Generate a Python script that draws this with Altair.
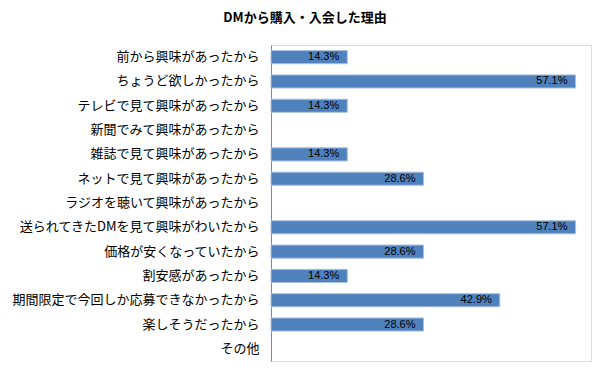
import altair as alt
import pandas as pd

categories = [
    "前から興味があったから",
    "ちょうど欲しかったから",
    "テレビで見て興味があったから",
    "新聞でみて興味があったから",
    "雑誌で見て興味があったから",
    "ネットで見て興味があったから",
    "ラジオを聴いて興味があったから",
    "送られてきたDMを見て興味がわいたから",
    "価格が安くなっていたから",
    "割安感があったから",
    "期間限定で今回しか応募できなかったから",
    "楽しそうだったから",
    "その他",
]
values = [14.3, 57.1, 14.3, 0.0, 14.3, 28.6, 0.0, 57.1, 28.6, 14.3, 42.9, 28.6, 0.0]
title_text = "DMから購入・入会した理由"

df = pd.DataFrame({"cat": categories, "val": values})
df["label"] = df["val"].map(lambda v: f"{v:.1f}%")

jp_font = "Noto Sans CJK JP"

y_enc = alt.Y(
    "cat:N",
    sort=categories,
    title=None,
    scale=alt.Scale(domain=categories, paddingInner=0.46, paddingOuter=0.23),
    axis=alt.Axis(
        labelFont=jp_font,
        labelFontSize=13,
        labelColor="#000000",
        labelPadding=12,
        ticks=False,
        domain=True,
        domainColor="#868686",
        labelLimit=400,
        grid=False,
    ),
)
x_enc = alt.X(
    "val:Q",
    title=None,
    scale=alt.Scale(domain=[0, 60], nice=False),
    axis=None,
)

base = alt.Chart(df).transform_filter("datum.val > 0")

bars = base.mark_bar(
    color="#4F81BD", stroke="#A9C1E0", strokeWidth=1
).encode(y=y_enc, x=x_enc)

labels = base.mark_text(
    align="right", baseline="middle", dx=-8, fontSize=11,
    font="Liberation Sans", color="#000000"
).encode(y=alt.Y("cat:N", sort=categories), x=alt.X("val:Q"), text="label:N")

chart = alt.layer(bars, labels).properties(
    width=320,
    height=316,
    title=alt.TitleParams(
        text=title_text, anchor="middle", dx=-126, offset=20,
        fontSize=13, fontWeight="bold", font=jp_font, color="#000000"
    ),
    padding={"left": 3, "top": 4, "right": 5, "bottom": 2},
).configure_view(stroke=None).configure(background="white")

chart.save("out.html", embed_options={"renderer": "svg", "actions": False})
